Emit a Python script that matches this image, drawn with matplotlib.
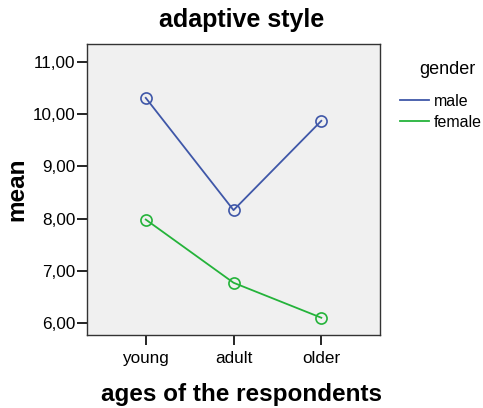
import matplotlib
matplotlib.use("Agg")
import matplotlib.pyplot as plt

plt.rcParams['font.family'] = ['Liberation Sans', 'DejaVu Sans']

categories = ["young", "adult", "older"]
male = [10.31, 8.16, 9.87]
female = [7.98, 6.77, 6.10]
yticks = [6, 7, 8, 9, 10, 11]
ytick_labels = ["6,00", "7,00", "8,00", "9,00", "10,00", "11,00"]

fig = plt.figure(figsize=(4.83, 4.08), dpi=100)
ax = fig.add_axes([0.180, 0.179, 0.607, 0.713])
ax.set_facecolor('#F0F0F0')
x = range(len(categories))
ax.plot(x, male, color='#3F57A8', lw=1.3, marker='o', ms=8, mfc='none', mew=1.2, label='male')
ax.plot(x, female, color='#24B33A', lw=1.3, marker='o', ms=8, mfc='none', mew=1.2, label='female')
ax.set_xlim(-0.67, 2.67)
ax.set_ylim(5.77, 11.34)
ax.set_xticks(list(x))
ax.set_xticklabels(categories, fontsize=12.3)
ax.set_yticks(yticks)
ax.set_yticklabels(ytick_labels, fontsize=12.3)
ax.tick_params(axis='y', direction='out', length=7.2, width=1.2, color='black', pad=1)
ax.tick_params(axis='x', direction='out', length=7.2, width=1.2, color='black', pad=4)
for s in ax.spines.values():
    s.set_color('#333333')
    s.set_linewidth(1.0)
fig.text(0.5, 1 - 20 / 408, "adaptive style", ha='center', va='center', fontsize=18, fontweight='bold')
fig.text(0.5, 1 - 395 / 408, "ages of the respondents", ha='center', va='center', fontsize=17.5, fontweight='bold')
ax.set_ylabel("mean", fontsize=17.5, fontweight='bold', labelpad=3)

h1, = ax.plot([], [], color='#3F57A8', lw=1.3)
h2, = ax.plot([], [], color='#24B33A', lw=1.3)
fig.text(447 / 483, 1 - 70 / 408, 'gender', ha='center', va='center', fontsize=13)
fig.legend([h1, h2], ['male', 'female'], loc='upper left',
           bbox_to_anchor=(400 / 483, 1 - 94 / 408), frameon=False, fontsize=11.5,
           handlelength=1.8, handletextpad=0.3,
           labelspacing=0.35, borderaxespad=0, borderpad=0)
fig.savefig('out.png', dpi=100)
